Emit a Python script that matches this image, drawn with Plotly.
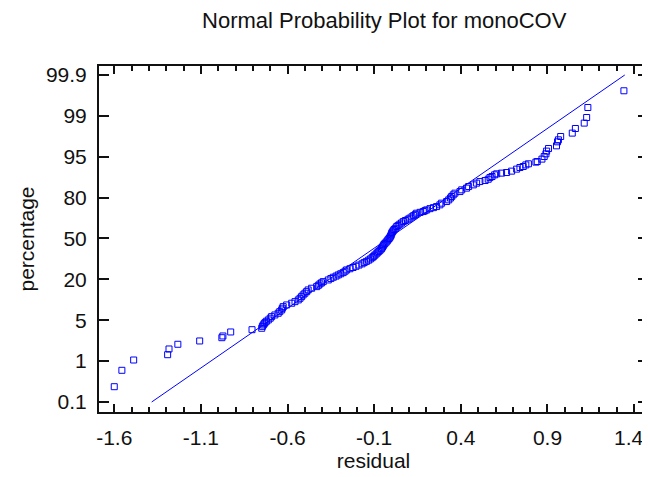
import plotly.graph_objects as go

# Sorted residuals (x) and their normal-score positions (y, axis units: -4 = 0.1%, 4 = 99.9%)
residual = [
    -1.600, -1.556, -1.488, -1.292, -1.284, -1.233, -1.107, -0.979, -0.973, -0.928,
    -0.805, -0.749, -0.745, -0.740, -0.735, -0.730, -0.722, -0.711, -0.700, -0.692,
    -0.673, -0.654, -0.645, -0.634, -0.630, -0.625, -0.605, -0.576, -0.557, -0.538,
    -0.528, -0.519, -0.510, -0.500, -0.490, -0.481, -0.461, -0.432, -0.422, -0.413,
    -0.404, -0.394, -0.365, -0.350, -0.336, -0.320, -0.307, -0.293, -0.279, -0.268,
    -0.259, -0.240, -0.222, -0.205, -0.188, -0.170, -0.158, -0.145, -0.132, -0.122,
    -0.112, -0.105, -0.097, -0.089, -0.082, -0.074, -0.067, -0.060, -0.057, -0.052,
    -0.048, -0.044, -0.038, -0.031, -0.025, -0.020, -0.014, -0.009, -0.005, -0.002,
    0.001, 0.005, 0.010, 0.015, 0.022, 0.030, 0.038, 0.048, 0.058, 0.068,
    0.080, 0.095, 0.106, 0.118, 0.128, 0.138, 0.145, 0.165, 0.183, 0.193,
    0.203, 0.222, 0.242, 0.260, 0.279, 0.289, 0.318, 0.330, 0.340, 0.347,
    0.356, 0.366, 0.395, 0.405, 0.433, 0.445, 0.472, 0.491, 0.510, 0.540,
    0.558, 0.568, 0.580, 0.595, 0.607, 0.635, 0.664, 0.693, 0.722, 0.741,
    0.760, 0.775, 0.790, 0.833, 0.841, 0.868, 0.881, 0.891, 0.895, 0.906,
    0.952, 0.958, 0.963, 0.976, 1.043, 1.061, 1.112, 1.126, 1.133, 1.341,
]
score = [
    -3.626, -3.225, -2.973, -2.843, -2.703, -2.588, -2.507, -2.427, -2.385, -2.287,
    -2.231, -2.196, -2.150, -2.116, -2.085, -2.059, -2.025, -1.993, -1.950, -1.912,
    -1.871, -1.829, -1.790, -1.748, -1.705, -1.667, -1.626, -1.584, -1.545, -1.503,
    -1.463, -1.423, -1.380, -1.339, -1.300, -1.259, -1.217, -1.178, -1.145, -1.112,
    -1.085, -1.055, -1.014, -0.980, -0.948, -0.920, -0.891, -0.863, -0.835, -0.800,
    -0.769, -0.740, -0.710, -0.680, -0.650, -0.620, -0.590, -0.560, -0.530, -0.500,
    -0.470, -0.443, -0.410, -0.380, -0.350, -0.320, -0.290, -0.260, -0.238, -0.210,
    -0.180, -0.150, -0.120, -0.090, -0.060, -0.030, 0.000, 0.030, 0.060, 0.090,
    0.130, 0.160, 0.190, 0.220, 0.250, 0.291, 0.320, 0.350, 0.380, 0.414,
    0.440, 0.470, 0.497, 0.530, 0.560, 0.590, 0.619, 0.640, 0.659, 0.680,
    0.700, 0.730, 0.755, 0.781, 0.823, 0.864, 0.904, 0.945, 0.990, 1.026,
    1.068, 1.109, 1.148, 1.190, 1.232, 1.271, 1.312, 1.354, 1.393, 1.418,
    1.450, 1.490, 1.516, 1.557, 1.582, 1.599, 1.614, 1.648, 1.697, 1.736,
    1.761, 1.800, 1.827, 1.868, 1.883, 1.942, 2.005, 2.071, 2.138, 2.201,
    2.267, 2.365, 2.414, 2.495, 2.578, 2.691, 2.823, 2.960, 3.205, 3.614,
]

# Reference line end points
line_x = [-1.384, 1.346]
line_y = [-4.0, 4.0]

y_tickvals = [-4, -3, -2, -1, 0, 1, 2, 3, 4]
y_ticktext = ["0.1", "1", "5", "20", "50", "80", "95", "99", "99.9"]
x_tickvals = [-1.6, -1.1, -0.6, -0.1, 0.4, 0.9, 1.4]
x_ticktext = ["-1.6", "-1.1", "-0.6", "-0.1", "0.4", "0.9", "1.4"]

FONT = "Liberation Sans, Arial, Helvetica, sans-serif"
BLUE = "#0000ff"
INK = "#111111"

fig = go.Figure()
fig.add_trace(go.Scatter(
    x=line_x, y=line_y, mode="lines",
    line=dict(color=BLUE, width=1), hoverinfo="skip", showlegend=False,
))
fig.add_trace(go.Scatter(
    x=residual, y=score, mode="markers",
    marker=dict(symbol="square-open", size=6, color=BLUE, line=dict(color=BLUE, width=1)),
    showlegend=False,
))

# page body has an 8px default margin, so the figure is sized to fit the window
fig.update_layout(
    width=642, height=469,
    margin=dict(l=91, r=2, t=58, b=65, pad=0, autoexpand=False),
    paper_bgcolor="white", plot_bgcolor="white",
    font=dict(family=FONT, size=21, color=INK),
    title=dict(text="Normal Probability Plot for monoCOV", x=0.586, xanchor="center",
               y=0.974, yanchor="middle", font=dict(family=FONT, size=22, color=INK)),
)
# all but the last x tick label are drawn by the axis; the last one is nudged left
# (as in the reference) so that it stays inside the window
fig.update_xaxes(
    range=[-1.688, 1.48], automargin=False,
    tickmode="array", tickvals=x_tickvals,
    ticktext=x_ticktext[:-1] + [""],
    ticks="inside", ticklen=8, tickwidth=2, tickcolor=INK,
    minor=dict(ticks="inside", ticklen=5, tickwidth=1.5, tickcolor=INK,
               tick0=-1.6, dtick=0.1, showgrid=False),
    showline=True, linewidth=2, linecolor=INK, mirror="allticks",
    showgrid=False, zeroline=False,
    ticklabelstandoff=6,
    title=dict(text="residual", standoff=4, font=dict(size=21)),
)
fig.add_annotation(
    x=x_tickvals[-1], xref="x", y=0, yref="paper",
    text=x_ticktext[-1], showarrow=False,
    xanchor="center", yanchor="middle", xshift=-5, yshift=-25,
    font=dict(family=FONT, size=21, color=INK),
)
fig.update_yaxes(
    range=[-4.245, 4.22], automargin=False,
    tickmode="array", tickvals=y_tickvals, ticktext=y_ticktext,
    ticks="inside", ticklen=10, tickwidth=2, tickcolor=INK,
    showline=True, linewidth=2, linecolor=INK, mirror="allticks",
    showgrid=False, zeroline=False,
    ticklabelstandoff=6,
    title=dict(text="percentage", standoff=6, font=dict(size=21)),
)

fig.write_html("out.html")
